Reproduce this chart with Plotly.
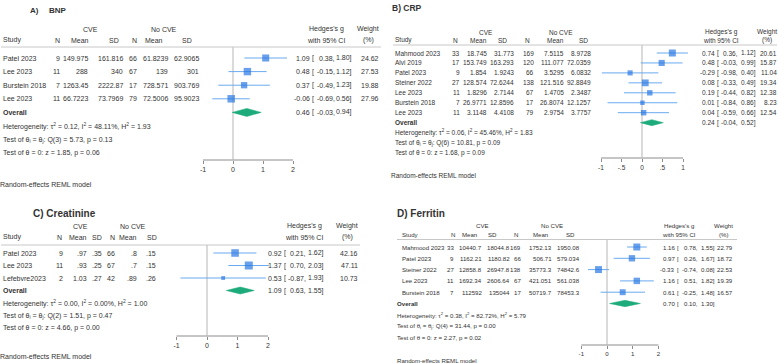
import plotly.graph_objects as go

W, H = 778, 363
FONT = "Liberation Sans, Arial, sans-serif"
TXT = "#333333"
BLUE = "#2a78e4"
CI_BLUE = "#6aaaf0"
GREEN = "#1dab7b"
AXC = "#8c8c8c"
HLINE = "#c8c8c8"

# ---------------- data ----------------
# A) BNP
bnp_study = ["Patel 2023", "Lee 2023", "Burstein 2018", "Lee 2023"]
bnp_n1 = ["9", "11", "7", "11"]
bnp_mean1 = ["149.975", "288", "1263.45", "66.7223"]
bnp_sd1 = ["161.816", "340", "2222.87", "73.7969"]
bnp_n2 = ["66", "67", "17", "79"]
bnp_mean2 = ["61.8239", "139", "728.571", "72.5006"]
bnp_sd2 = ["62.9065", "301", "903.769", "95.9023"]
bnp_g = [1.09, 0.48, 0.37, -0.06]
bnp_lo = [0.38, -0.15, -0.49, -0.69]
bnp_hi = [1.80, 1.12, 1.23, 0.56]
bnp_w = [24.62, 27.53, 19.88, 27.96]
bnp_overall = [0.46, -0.03, 0.94]
bnp_stats = ["Heterogeneity: τ<sup>2</sup> = 0.12, I<sup>2</sup> = 48.11%, H<sup>2</sup> = 1.93",
             "Test of θ<sub>i</sub> = θ<sub>j</sub>: Q(3) = 5.73, p = 0.13",
             "Test of θ = 0: z = 1.85, p = 0.06"]
bnp_ticks = [-1, 0, 1, 2]
bnp_ticktext = ["-1", "0", "1", "2"]

# B) CRP
crp_study = ["Mahmood 2023", "Alvi 2019", "Patel 2023", "Steiner 2022", "Lee 2023", "Burstein 2018", "Lee 2023"]
crp_n1 = ["33", "17", "9", "27", "11", "7", "11"]
crp_mean1 = ["18.745", "153.749", "1.854", "128.574", "1.8296", "26.9771", "3.1148"]
crp_sd1 = ["31.773", "163.293", "1.9243", "72.6244", "2.7144", "12.8596", "4.4108"]
crp_n2 = ["169", "120", "66", "138", "67", "17", "79"]
crp_mean2 = ["7.5115", "111.077", "3.5295", "121.516", "1.4705", "26.8074", "2.9754"]
crp_sd2 = ["8.9728", "72.0359", "6.0832", "92.8849", "2.3487", "12.1257", "3.7757"]
crp_g = [0.74, 0.48, -0.29, 0.08, 0.19, 0.01, 0.04]
crp_lo = [0.36, -0.03, -0.98, -0.33, -0.44, -0.84, -0.59]
crp_hi = [1.12, 0.99, 0.40, 0.49, 0.82, 0.86, 0.66]
crp_w = [20.61, 15.87, 11.04, 19.34, 12.38, 8.23, 12.54]
crp_overall = [0.24, -0.04, 0.52]
crp_stats = ["Heterogeneity: τ<sup>2</sup> = 0.06, I<sup>2</sup> = 45.46%, H<sup>2</sup> = 1.83",
             "Test of θ<sub>i</sub> = θ<sub>j</sub>: Q(6) = 10.81, p = 0.09",
             "Test of θ = 0: z = 1.68, p = 0.09"]
crp_ticks = [-1, -0.5, 0, 0.5, 1]
crp_ticktext = ["-1", "-.5", "0", ".5", "1"]

# C) Creatinine
cre_study = ["Patel 2023", "Lee 2023", "Lefebvre2023"]
cre_n1 = ["9", "11", "2"]
cre_mean1 = [".97", ".93", "1.03"]
cre_sd1 = [".35", ".25", ".27"]
cre_n2 = ["66", "67", "42"]
cre_mean2 = [".8", ".7", ".89"]
cre_sd2 = [".15", ".15", ".26"]
cre_g = [0.92, 1.37, 0.53]
cre_lo = [0.21, 0.70, -0.87]
cre_hi = [1.62, 2.03, 1.93]
cre_w = [42.16, 47.11, 10.73]
cre_overall = [1.09, 0.63, 1.55]
cre_stats = ["Heterogeneity: τ<sup>2</sup> = 0.00, I<sup>2</sup> = 0.00%, H<sup>2</sup> = 1.00",
             "Test of θ<sub>i</sub> = θ<sub>j</sub>: Q(2) = 1.51, p = 0.47",
             "Test of θ = 0: z = 4.66, p = 0.00"]
cre_ticks = [-1, 0, 1, 2]
cre_ticktext = ["-1", "0", "1", "2"]

# D) Ferritin
fer_study = ["Mahmood 2023", "Patel 2023", "Steiner 2022", "Lee 2023", "Burstein 2018"]
fer_n1 = ["33", "9", "27", "11", "7"]
fer_mean1 = ["10440.7", "1162.21", "12858.8", "1692.34", "112592"]
fer_sd1 = ["18044.8", "1180.82", "26947.8", "2606.64", "135044"]
fer_n2 = ["169", "66", "138", "67", "17"]
fer_mean2 = ["1752.13", "506.71", "35773.3", "421.051", "50719.7"]
fer_sd2 = ["1950.08", "579.034", "74842.6", "561.038", "78453.3"]
fer_g = [1.16, 0.97, -0.33, 1.16, 0.61]
fer_lo = [0.78, 0.26, -0.74, 0.51, -0.25]
fer_hi = [1.55, 1.67, 0.08, 1.82, 1.48]
fer_w = [22.79, 18.72, 22.53, 19.39, 16.57]
fer_overall = [0.70, 0.10, 1.30]
fer_stats = ["Heterogeneity: τ<sup>2</sup> = 0.38, I<sup>2</sup> = 82.72%, H<sup>2</sup> = 5.79",
             "Test of θ<sub>i</sub> = θ<sub>j</sub>: Q(4) = 31.44, p = 0.00",
             "Test of θ = 0: z = 2.27, p = 0.02"]
fer_ticks = [-1, 0, 1, 2]
fer_ticktext = ["-1", "0", "1", "2"]

col_headers = ["N", "Mean", "SD", "N", "Mean", "SD"]
note_text = "Random-effects REML model"

# ---------------- layout of each panel (pixels) ----------------
panels = [
    dict(data=dict(study=bnp_study, cols=[bnp_n1, bnp_mean1, bnp_sd1, bnp_n2, bnp_mean2, bnp_sd2],
                   g=bnp_g, lo=bnp_lo, hi=bnp_hi, w=bnp_w, overall=bnp_overall, stats=bnp_stats,
                   ticks=bnp_ticks, ticktext=bnp_ticktext),
         titles=[("A)", 30), ("BNP", 49)], title_y=10, title_size=8,
         fs=7, y0=58, dy=13.6, hdr1=29, hdr2=40, hline=47, hline_x=(1, 381),
         axis_y=160, note_y=184, note_x=0, study_x=3,
         val_r=[60, 88, 123, 137, 168, 199], hdr_r=[60, 89, 119, 137, 163, 192],
         cve_c=90, nocve_c=164, hg_c=326, est_r=310, br_l=312, lo_r=335, hi_r=352, w_r=379,
         zero=233, unit=30, dom=(185, 300), smax=7.5, dh=4.0),
    dict(data=dict(study=crp_study, cols=[crp_n1, crp_mean1, crp_sd1, crp_n2, crp_mean2, crp_sd2],
                   g=crp_g, lo=crp_lo, hi=crp_hi, w=crp_w, overall=crp_overall, stats=crp_stats,
                   ticks=crp_ticks, ticktext=crp_ticktext),
         titles=[("B) CRP", 392)], title_y=8, title_size=8.5,
         fs=6.5, y0=53, dy=9.95, hdr1=32, hdr2=40, hline=45, hline_x=(393, 777),
         axis_y=158, note_y=175, note_x=391, study_x=395,
         val_r=[460, 487, 514, 534, 564, 591], hdr_r=[458, 487, 507, 530, 564, 588],
         cve_c=486, nocve_c=561, hg_c=721, est_r=715, br_l=717, lo_r=738, hi_r=756, w_r=777,
         zero=642, unit=41, dom=(595, 695), smax=7.0, dh=3.0),
    dict(data=dict(study=cre_study, cols=[cre_n1, cre_mean1, cre_sd1, cre_n2, cre_mean2, cre_sd2],
                   g=cre_g, lo=cre_lo, hi=cre_hi, w=cre_w, overall=cre_overall, stats=cre_stats,
                   ticks=cre_ticks, ticktext=cre_ticktext),
         titles=[("C) Creatinine", 33)], title_y=213, title_size=10,
         fs=7, y0=253, dy=12.5, hdr1=226, hdr2=237, hline=245, hline_x=(1, 360),
         axis_y=336, note_y=356, note_x=0, study_x=3,
         val_r=[63, 87, 102, 115, 137, 156], hdr_r=[62, 87, 102, 115, 137, 157],
         cve_c=80, nocve_c=133, hg_c=304, est_r=282, br_l=284, lo_r=306, hi_r=324, w_r=358,
         zero=207, unit=30.5, dom=(165, 275), smax=8.0, dh=3.5),
    dict(data=dict(study=fer_study, cols=[fer_n1, fer_mean1, fer_sd1, fer_n2, fer_mean2, fer_sd2],
                   g=fer_g, lo=fer_lo, hi=fer_hi, w=fer_w, overall=fer_overall, stats=fer_stats,
                   ticks=fer_ticks, ticktext=fer_ticktext),
         titles=[("D) Ferritin", 397)], title_y=213, title_size=10,
         fs=6.1, y0=247, dy=11.3, hdr1=225, hdr2=234, hline=239.5, hline_x=(397, 737),
         axis_y=345, note_y=360, note_x=397, study_x=402,
         val_r=[454, 482, 510, 521, 552, 580], hdr_r=[455, 477, 497, 518, 548, 575],
         cve_c=482, nocve_c=552, hg_c=679, est_r=675, br_l=677, lo_r=698, hi_r=715, w_r=733,
         zero=607, unit=25.7, dom=(570, 660), smax=7.0, dh=3.2),
]

fig = go.Figure()
annotations = []
shapes = []
layout_axes = {}


def ann(text, xpx, y, yref, anchor, size, bold=False):
    return dict(text=(f"<b>{text}</b>" if bold else text), x=xpx / W, xref="paper", y=y, yref=yref,
                xanchor=anchor, yanchor="middle", showarrow=False, borderpad=0, borderwidth=0,
                font=dict(family=FONT, size=size, color=TXT))


for k, P in enumerate(panels):
    D = P["data"]
    sfx = "" if k == 0 else str(k + 1)
    xref, yref = "x" + sfx, "y" + sfx
    y0, dy = P["y0"], P["dy"]

    def row(px):
        return (px - y0) / dy

    n = len(D["study"])
    fs = P["fs"]
    a, b = P["dom"]
    layout_axes["xaxis" + sfx] = dict(
        domain=[a / W, b / W], range=[(a - P["zero"]) / P["unit"], (b - P["zero"]) / P["unit"]],
        anchor="free", position=1 - P["axis_y"] / H, showgrid=False, zeroline=False, showline=False,
        tickmode="array", tickvals=D["ticks"], ticktext=D["ticktext"], ticks="outside", ticklen=3,
        tickcolor=AXC, tickwidth=1, tickfont=dict(family=FONT, size=fs, color=TXT), fixedrange=True)
    layout_axes["yaxis" + sfx] = dict(domain=[0, 1], range=[(H - y0) / dy, -y0 / dy], visible=False,
                                      anchor=xref, fixedrange=True)

    rows = list(range(n))
    axis_row = row(P["axis_y"])
    # axis baseline
    fig.add_trace(go.Scatter(x=[min(D["ticks"]), max(D["ticks"])], y=[axis_row, axis_row], mode="lines",
                             line=dict(color=AXC, width=1), xaxis=xref, yaxis=yref, hoverinfo="skip",
                             showlegend=False))
    # zero line
    fig.add_trace(go.Scatter(x=[0, 0], y=[row(P["hline"]), axis_row], mode="lines",
                             line=dict(color="#b5b5b5", width=1), xaxis=xref, yaxis=yref,
                             hoverinfo="skip", showlegend=False))
    # CI lines
    cx, cy = [], []
    for i in rows:
        cx += [D["lo"][i], D["hi"][i], None]
        cy += [i, i, None]
    fig.add_trace(go.Scatter(x=cx, y=cy, mode="lines", line=dict(color=CI_BLUE, width=1),
                             xaxis=xref, yaxis=yref, hoverinfo="skip", showlegend=False))
    # boxes
    wmax = max(D["w"])
    fig.add_trace(go.Scatter(x=D["g"], y=rows, mode="markers",
                             marker=dict(symbol="square", color=BLUE,
                                         size=[P["smax"] * (w / wmax) ** 0.5 for w in D["w"]],
                                         line=dict(width=0)),
                             xaxis=xref, yaxis=yref, hoverinfo="skip", showlegend=False))
    # overall diamond
    og, olo, ohi = D["overall"]
    h = P["dh"] / dy
    fig.add_trace(go.Scatter(x=[olo, og, ohi, og, olo], y=[n, n - h, n, n + h, n], mode="lines",
                             fill="toself", fillcolor=GREEN, line=dict(color=GREEN, width=0.5),
                             xaxis=xref, yaxis=yref, hoverinfo="skip", showlegend=False))

    # header line
    shapes.append(dict(type="line", xref="paper", yref=yref, x0=P["hline_x"][0] / W, x1=P["hline_x"][1] / W,
                       y0=row(P["hline"]), y1=row(P["hline"]), line=dict(color=HLINE, width=1)))

    # titles
    for t, tx in P["titles"]:
        annotations.append(ann(t, tx, row(P["title_y"]), yref, "left", P["title_size"], bold=True))

    # headers
    h1, h2 = row(P["hdr1"]), row(P["hdr2"])
    annotations.append(ann("CVE", P["cve_c"], h1, yref, "center", fs))
    annotations.append(ann("No CVE", P["nocve_c"], h1, yref, "center", fs))
    annotations.append(ann("Hedges's g", P["hg_c"], h1, yref, "center", fs))
    annotations.append(ann("with 95% CI", P["hg_c"], h2, yref, "center", fs))
    annotations.append(ann("Weight", P["w_r"], h1, yref, "right", fs))
    annotations.append(ann("(%)", P["w_r"] - 5.5 * fs / 7, h2, yref, "right", fs))
    annotations.append(ann("Study", P["study_x"], h2, yref, "left", fs))
    for j, hd in enumerate(col_headers):
        annotations.append(ann(hd, P["hdr_r"][j], h2, yref, "right", fs))

    # study rows
    for i in rows:
        annotations.append(ann(D["study"][i], P["study_x"], i, yref, "left", fs))
        for j, col in enumerate(D["cols"]):
            annotations.append(ann(col[i], P["val_r"][j], i, yref, "right", fs))
        annotations.append(ann(f"{D['g'][i]:.2f}", P["est_r"], i, yref, "right", fs))
        annotations.append(ann("[", P["br_l"], i, yref, "left", fs))
        annotations.append(ann(f"{D['lo'][i]:.2f},", P["lo_r"], i, yref, "right", fs))
        annotations.append(ann(f"{D['hi'][i]:.2f}]", P["hi_r"], i, yref, "right", fs))
        annotations.append(ann(f"{D['w'][i]:.2f}", P["w_r"], i, yref, "right", fs))

    # overall row
    ox = P["study_x"] if k != 3 else P["note_x"]
    annotations.append(ann("Overall", ox, n, yref, "left", fs, bold=True))
    annotations.append(ann(f"{og:.2f}", P["est_r"], n, yref, "right", fs))
    annotations.append(ann("[", P["br_l"], n, yref, "left", fs))
    annotations.append(ann(f"{olo:.2f},", P["lo_r"], n, yref, "right", fs))
    annotations.append(ann(f"{ohi:.2f}]", P["hi_r"], n, yref, "right", fs))
    for s_i, s in enumerate(D["stats"]):
        annotations.append(ann(s, ox, n + 1 + s_i, yref, "left", fs))
    annotations.append(ann(note_text, P["note_x"], row(P["note_y"]), yref, "left", fs))

fig.update_layout(
    width=W, height=H, margin=dict(l=0, r=0, t=0, b=0, pad=0, autoexpand=False),
    paper_bgcolor="white", plot_bgcolor="rgba(0,0,0,0)",
    showlegend=False, annotations=annotations, shapes=shapes,
    font=dict(family=FONT, color=TXT), **layout_axes)

fig.write_html("out.html", config=dict(displayModeBar=False),
               post_script="document.body.style.margin='0';document.body.style.padding='0';"
                           "document.body.style.overflow='hidden';")
